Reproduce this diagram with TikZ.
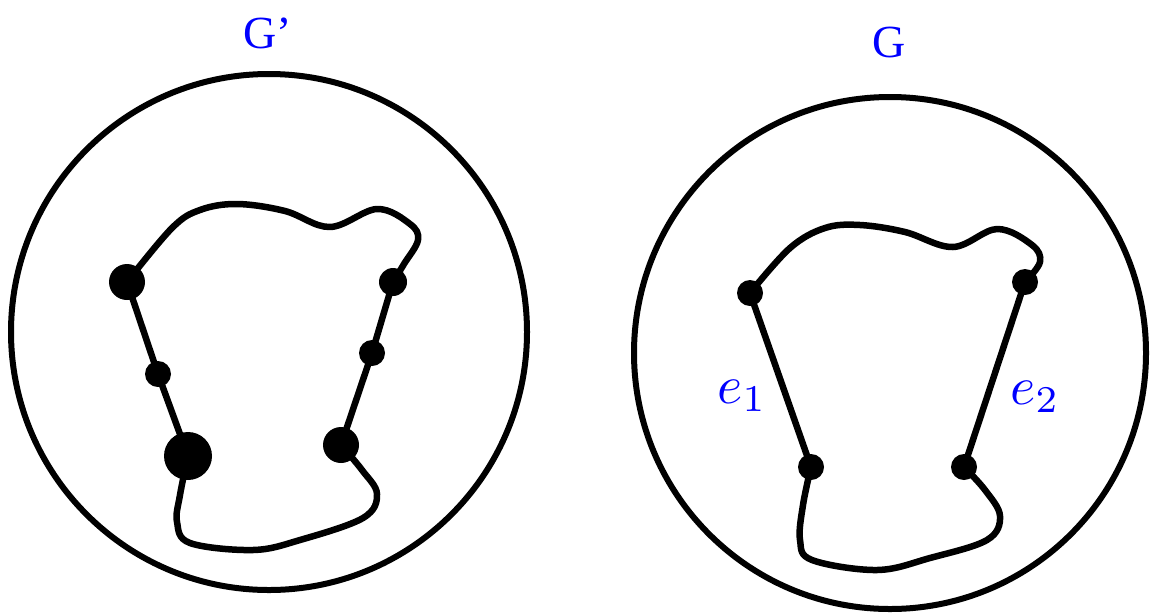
\documentclass[tikz,border=0pt]{standalone}
\usepackage{graphicx}
\usepackage{fontspec}
\setmainfont{Liberation Serif}
\usetikzlibrary{positioning}
\definecolor{LabelBlue}{RGB}{0,0,255}

\begin{document}
\begin{tikzpicture}[x=1pt, y=-1pt,
		vtx/.style={circle, fill=black, inner sep=0pt, minimum size=#1},
		vtx/.default=26pt,
		edge/.style={line width=6.5pt, line join=round, line cap=round},
		lab/.style={LabelBlue, font=\fontsize{46}{50}\selectfont},
		elab/.style={LabelBlue, inner sep=0pt}]
		\useasboundingbox (0,0) rectangle (1151,614);
		% G'
		\begin{scope}
			\draw[line width=6pt] (269,332) circle[radius=258];
			\node[lab] (Gp) at (268,33) {G'};
			\node[vtx=36pt] (a) at (127,282) {};
			\node[vtx] (b) at (158,374) {};
			\node[vtx=48pt] (c) at (188,456) {};
			\node[vtx=36pt] (d) at (341,445) {};
			\node[vtx] (e) at (372,353) {};
			\node[vtx=28pt] (f) at (393,282) {};
			\draw[edge] plot[smooth, tension=0.6] coordinates {(a.center) (172,228) (200,210) (237,204) (285,211) (330,227) (377,209) (410,224) (418,240) (404,264) (f.center)};
			\draw[edge] (f.center) -- (e.center) -- (d.center);
			\draw[edge] plot[smooth, tension=0.6] coordinates {(d.center) (362,470) (377,494) (363,518) (300,540) (253,550) (190,543) (177,522) (180,495) (c.center)};
			\draw[edge] (c.center) -- (b.center) -- (a.center);
		\end{scope}
		% G
		\begin{scope}
			\draw[line width=6pt] (890,353) circle[radius=256];
			\node[lab] (G) at (889,42) {G};
			\node[vtx] (p) at (750,293) {};
			\node[vtx] (q) at (811,467) {};
			\node[vtx] (r) at (964,467) {};
			\node[vtx] (s) at (1025,282) {};
			\draw[edge] plot[smooth, tension=0.6] coordinates {(p.center) (790,248) (825,228) (860,225) (905,232) (953,247) (997,229) (1032,245) (1040,262) (s.center)};
			\draw[edge] plot[smooth, tension=0.6] coordinates {(r.center) (985,490) (1000,516) (987,540) (930,558) (877,570) (812,560) (800,540) (803,505) (q.center)};
			\draw[edge] (p.center) -- node[elab, pos=0.59, anchor=east, xshift=-16pt] (e1) {\scalebox{5.4}{$e_1$}} (q.center);
			\draw[edge] (s.center) -- node[elab, pos=0.62, anchor=west, xshift=20pt] (e2) {\scalebox{5.4}{$e_2$}} (r.center);
		\end{scope}
	\end{tikzpicture}
\end{document}
